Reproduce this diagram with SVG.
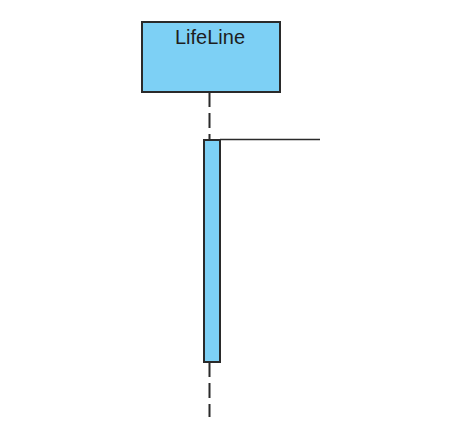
<svg xmlns="http://www.w3.org/2000/svg" width="454" height="433" viewBox="0 0 454 433">
<style>
.box{fill:#7dd0f5;stroke:#2a2a2a;stroke-width:2}
.life{stroke:#2a2a2a;stroke-width:2;stroke-dasharray:15 6;fill:none}
.msg{stroke:#2a2a2a;stroke-width:1.6;fill:none}
text{font-family:"Liberation Sans",Arial,sans-serif;font-size:20px;fill:#1e1e1e}
</style>
<rect width="454" height="433" fill="#fff"/>
<g id="connectors">
<line class="life" x1="209.5" y1="92" x2="209.5" y2="140"/>
<line class="life" x1="209.5" y1="362" x2="209.5" y2="417"/>
<line class="msg" x1="220" y1="139.5" x2="320" y2="139.5"/>
</g>
<g id="lifeline">
<rect class="box" x="142" y="22" width="138" height="70"/>
<text x="210" y="44" text-anchor="middle">LifeLine</text>
</g>
<g id="activation">
<rect class="box" x="204" y="140" width="16" height="222"/>
</g>
</svg>
